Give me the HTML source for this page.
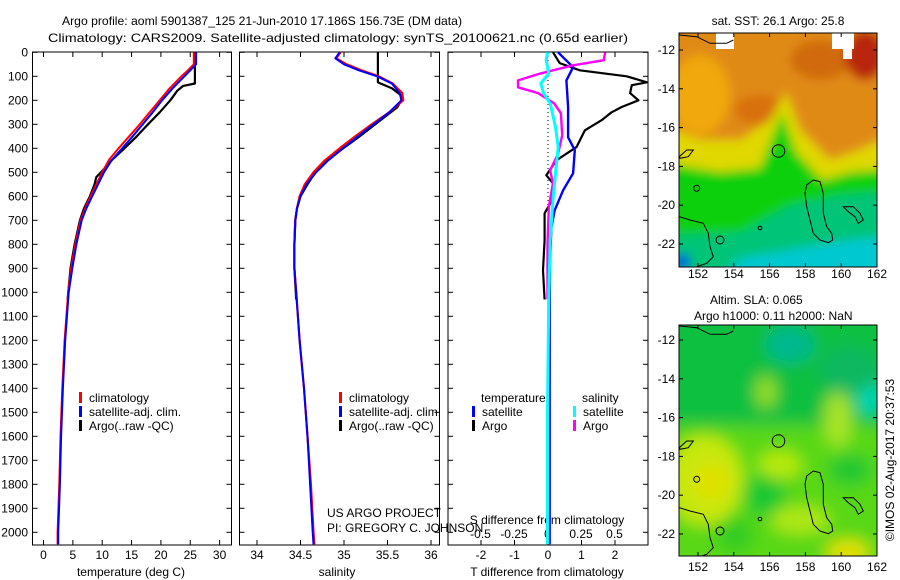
<!DOCTYPE html>
<html><head><meta charset="utf-8"><style>
html,body{margin:0;padding:0;background:#fff;}
svg{display:block;font-family:"Liberation Sans",Arial,sans-serif;font-size:12px;}
</style></head><body>
<svg id="fig" width="900" height="580" viewBox="0 0 900 580" xmlns="http://www.w3.org/2000/svg">
<defs>
<clipPath id="cp1"><rect x="32.5" y="52" width="199" height="493"/></clipPath>
<clipPath id="cp2"><rect x="239.5" y="52" width="200" height="493"/></clipPath>
<clipPath id="cp3"><rect x="448" y="52" width="200" height="493"/></clipPath>
<clipPath id="cpm1"><rect x="679" y="33" width="198" height="234"/></clipPath>
<clipPath id="cpm2"><rect x="679" y="325" width="198" height="231"/></clipPath>
<filter id="bl" x="-20%" y="-20%" width="140%" height="140%"><feGaussianBlur stdDeviation="5"/></filter>
<filter id="bl2" x="-20%" y="-20%" width="140%" height="140%"><feGaussianBlur stdDeviation="8"/></filter>
</defs>

<text x="62" y="25" textLength="400" lengthAdjust="spacingAndGlyphs">Argo profile: aoml 5901387_125 21-Jun-2010 17.186S 156.73E (DM data)</text>
<text x="48" y="42" textLength="580" lengthAdjust="spacingAndGlyphs">Climatology: CARS2009. Satellite-adjusted climatology: synTS_20100621.nc (0.65d earlier)</text>

<g>
<g clip-path="url(#cpm1)">
<g filter="url(#bl)">
<rect x="660" y="20" width="240" height="260" fill="#e08a12"/>
<ellipse cx="700" cy="95" rx="30" ry="40" fill="#f0a810"/>
<ellipse cx="760" cy="110" rx="25" ry="15" fill="#d87010"/>
<ellipse cx="820" cy="60" rx="30" ry="20" fill="#d06a10"/>
<ellipse cx="865" cy="55" rx="20" ry="25" fill="#b82808"/>
<polygon points="660,125 700,140 740,140 770,120 786,92 800,130 830,160 860,150 900,130 900,200 660,200" fill="#e0d800"/>
<polygon points="660,162 720,172 760,168 782,112 796,152 822,180 850,172 900,168 900,280 660,280" fill="#10d010"/>
<polygon points="790,205 840,195 900,190 900,280 660,280 660,235 740,232" fill="#00c478"/>
<polygon points="740,258 800,248 850,240 900,235 900,280 720,280" fill="#00c8d0"/>
<ellipse cx="682" cy="262" rx="8" ry="8" fill="#0050e0"/>
</g>
<rect x="716" y="33" width="18" height="16" fill="#fff"/>
<rect x="832" y="33" width="22" height="16" fill="#fff"/>
<rect x="843" y="45" width="9" height="14" fill="#fff"/>
<g fill="none" stroke="#000" stroke-width="1">
<polygon points="806.7,185 813.3,180 820,181.7 823.3,193.3 823.3,213.3 826.7,226.7 831.7,233.3 832.7,240 828.3,242.7 820,240 813.3,233.3 810,220 806.7,206.7 805,193.3"/>
<polygon points="843.3,206.7 853.3,206.7 860,213.3 863.3,220 858.3,223.3 855,216.7 848.3,211.7"/>
<polyline points="679.3,216.7 690,220 703.3,223.3 708.3,233.3 710,246.7 713.3,256.7 706.7,263.3 696.7,266.7"/>
<polygon points="679.3,156.7 686.7,150 693.3,150 688.3,156.7 680,158.3"/>
<circle cx="696.7" cy="188.3" r="3"/><circle cx="720" cy="240" r="4"/><circle cx="760" cy="228" r="1.8"/>
<polyline points="679.3,35 696.7,36.7 710,43.3 726.7,43.3 733.3,40"/>
</g>
<circle cx="778.5" cy="151" r="6.3" fill="none" stroke="#000" stroke-width="1"/>
</g>
<rect x="679" y="33" width="198" height="234" fill="none" stroke="#000" stroke-width="1"/>
<text x="778" y="25" text-anchor="middle">sat. SST: 26.1 Argo: 25.8</text>
</g>

<g>
<g clip-path="url(#cpm2)">
<g filter="url(#bl2)">
<rect x="660" y="310" width="240" height="260" fill="#58d818"/>
<rect x="660" y="310" width="240" height="115" fill="#10c040"/>
<ellipse cx="790" cy="345" rx="25" ry="18" fill="#00b890"/>
<ellipse cx="870" cy="395" rx="14" ry="20" fill="#00d8b8"/>
<ellipse cx="850" cy="370" rx="30" ry="25" fill="#10b860"/>
<ellipse cx="766" cy="392" rx="10" ry="16" fill="#98e020"/>
<ellipse cx="838" cy="420" rx="14" ry="28" fill="#a8e428"/>
<ellipse cx="705" cy="480" rx="38" ry="45" fill="#c8e810"/>
<ellipse cx="712" cy="482" rx="18" ry="18" fill="#e0e000"/>
<ellipse cx="765" cy="495" rx="20" ry="22" fill="#18c830"/>
<ellipse cx="735" cy="535" rx="18" ry="18" fill="#30cc20"/>
<ellipse cx="780" cy="465" rx="22" ry="14" fill="#b8ea10"/>
<ellipse cx="850" cy="470" rx="22" ry="16" fill="#20c830"/>
<ellipse cx="800" cy="520" rx="30" ry="14" fill="#b0e818"/>
<ellipse cx="848" cy="552" rx="22" ry="12" fill="#e8e000"/>
</g>
<g fill="none" stroke="#000" stroke-width="1" transform="translate(0,291)">
<polygon points="806.7,185 813.3,180 820,181.7 823.3,193.3 823.3,213.3 826.7,226.7 831.7,233.3 832.7,240 828.3,242.7 820,240 813.3,233.3 810,220 806.7,206.7 805,193.3"/>
<polygon points="843.3,206.7 853.3,206.7 860,213.3 863.3,220 858.3,223.3 855,216.7 848.3,211.7"/>
<polyline points="679.3,216.7 690,220 703.3,223.3 708.3,233.3 710,246.7 713.3,256.7 706.7,263.3 696.7,266.7"/>
<polygon points="679.3,156.7 686.7,150 693.3,150 688.3,156.7 680,158.3"/>
<circle cx="696.7" cy="188.3" r="3"/><circle cx="720" cy="240" r="4"/><circle cx="760" cy="228" r="1.8"/>
<polyline points="679.3,35 696.7,36.7 710,43.3 726.7,43.3 733.3,40"/>
</g>
<circle cx="778.5" cy="441" r="6.3" fill="none" stroke="#000" stroke-width="1"/>
</g>
<rect x="679" y="325" width="198" height="231" fill="none" stroke="#000" stroke-width="1"/>
<text x="710" y="304">Altim. SLA: 0.065</text>
<text x="694" y="320">Argo h1000: 0.11 h2000: NaN</text>
</g>

<text transform="translate(894,460) rotate(-90)" text-anchor="middle">©IMOS 02-Aug-2017 20:37:53</text>
<text x="327" y="517">US ARGO PROJECT</text>
<text x="327" y="532">PI: GREGORY C. JOHNSON</text>

<g id="dyn"></g>
</svg>
<script>
const depthTicks = [0,100,200,300,400,500,600,700,800,900,1000,1100,1200,1300,1400,1500,1600,1700,1800,1900,2000];
const tempTicks = [0,5,10,15,20,25,30];
const salTicks = [34,34.5,35,35.5,36];
const salTickLabels = ["34","34.5","35","35.5","36"];
const tdiffTicks = [-2,-1,0,1,2];
const sdiffTicks = [-0.5,-0.25,0,0.25,0.5];
const sdiffTickLabels = ["-0.5","-0.25","0","0.25","0.5"];
const lonTicks = [152,154,156,158,160,162];
const latTicks = [-12,-14,-16,-18,-20,-22];

const climDepth = [0,50,75,100,150,200,250,300,350,400,450,500,550,600,650,700,800,900,1000,1200,1400,1600,1800,2000,2050];
const tempClim = [25.6,25.6,24.6,23.5,21.5,19.8,18.1,16.4,14.6,12.8,11.1,10.0,9.0,8.0,7.1,6.3,5.4,4.7,4.2,3.6,3.2,2.9,2.7,2.4,2.4];
const tempSat = [26.0,26.0,25.0,24.0,22.0,20.2,18.6,16.9,15.2,13.4,11.6,10.3,9.3,8.3,7.3,6.5,5.6,4.9,4.3,3.7,3.3,3.0,2.8,2.5,2.5];
const argoTDepth = [0,130,140,160,200,250,300,350,400,450,500,520,550,600,650,700,800,900,1030];
const tempArgo = [25.8,25.8,23.8,22.8,21.6,19.8,17.8,15.9,13.8,11.6,9.8,9.0,8.7,7.9,6.9,6.2,5.3,4.6,4.1];

const salDepth = [0,25,50,75,100,130,170,200,250,300,350,400,450,500,550,600,650,700,800,900,1000,1200,1400,1600,1800,2000,2050];
const salClim = [34.96,34.91,35.03,35.2,35.4,35.56,35.67,35.68,35.52,35.32,35.13,34.95,34.78,34.65,34.55,34.49,34.46,34.44,34.43,34.43,34.45,34.49,34.54,34.58,34.62,34.65,34.66];
const salSat = [34.95,34.9,35.0,35.17,35.38,35.55,35.64,35.66,35.52,35.34,35.16,34.99,34.82,34.68,34.57,34.5,34.46,34.44,34.43,34.43,34.45,34.49,34.54,34.58,34.61,34.64,34.65];
const argoSDepth = [0,125,130,150,180,200,230,260,300,350,400,450,500,550,600,650,700,800,900,1030];
const salArgo = [35.39,35.39,35.42,35.55,35.66,35.66,35.61,35.5,35.36,35.18,34.99,34.8,34.67,34.58,34.5,34.46,34.44,34.43,34.43,34.45];

const tArgoDiffDepth = [0,45,75,100,125,137,170,200,228,250,283,325,395,450,512,546,617,671,783,908,1030];
const tArgoDiff = [0.15,0.35,0.95,2.35,2.95,2.5,2.45,2.7,2.2,1.9,1.6,1.1,0.85,0.25,-0.05,0.15,0.12,-0.1,-0.1,-0.15,-0.1];
const tSatDiffDepth = [0,62,117,228,354,408,504,575,658,729,900,1200,1600,2050];
const tSatDiff = [0.3,0.75,0.55,0.6,0.6,0.8,0.75,0.45,0.2,0.1,0.05,0.05,0.05,0.05];
const sArgoDiffDepth = [0,33,54,88,117,146,170,213,254,346,421,492,546,646,800,1030];
const sArgoDiff = [0.43,0.42,0.19,-0.05,-0.22,-0.22,-0.07,0.05,0.1,0.11,0.08,0.02,0.04,0.01,0.0,0.0];
const sSatDiffDepth = [0,33,88,129,170,213,312,395,504,617,783,1000,1500,2050];
const sSatDiff = [0.0,-0.01,0.01,-0.05,-0.03,0.02,0.06,0.08,0.06,0.04,0.02,0.01,0.0,0.0];

const yD = d => 52.3 + d*0.24;
const xT = v => 43.5 + v*5.87;
const xS = v => 257 + (v-34)*87;
const xTd = v => 548 + v*33.5;
const xSd = v => 547.5 + v*134;
const xLon = v => 698 + (v-152)*17.9;
const yLat1 = v => 50 + (-12 - v)*19.4;
const yLat2 = v => 340 + (-12 - v)*19.4;

const NS = "http://www.w3.org/2000/svg";
const root = document.getElementById('dyn');
function mk(tag, attrs, parent){
  const e = document.createElementNS(NS, tag);
  for (const k in attrs) e.setAttribute(k, attrs[k]);
  (parent||root).appendChild(e);
  return e;
}
function txt(s, x, y, anchor){
  const t = mk('text', {x:x, y:y, 'text-anchor':anchor||'start'});
  t.textContent = s;
  return t;
}

const panels = [
  {name:'temperature-panel', x0:32.5, x1:231.5},
  {name:'salinity-panel', x0:239.5, x1:439.5},
  {name:'difference-panel', x0:448, x1:648}
];
const pTop = 52, pBot = 545;
panels.forEach(p => {
  const r = mk('rect', {x:p.x0, y:pTop, width:p.x1-p.x0, height:pBot-pTop, fill:'none', stroke:'#000', 'stroke-width':1});
  
  
  depthTicks.forEach(d => {
    const y = yD(d);
    const t1 = mk('line', {x1:p.x0, x2:p.x0+5, y1:y, y2:y, stroke:'#000'});
    
    
    const t2 = mk('line', {x1:p.x1-5, x2:p.x1, y1:y, y2:y, stroke:'#000'});
    
    
  });
});
depthTicks.forEach(d => {
  const t = txt(String(d), 28, yD(d)+4, 'end');
  
  
});

function xticks(vals, labels, fx, ly){
  vals.forEach((v,i) => {
    const x = fx(v);
    const a = mk('line', {x1:x, x2:x, y1:pTop, y2:pTop+5, stroke:'#000'});
    
    
    const b = mk('line', {x1:x, x2:x, y1:pBot-5, y2:pBot, stroke:'#000'});
    
    
    const t = txt(labels[i], x, ly, 'middle');
    
    
  });
}
xticks(tempTicks, tempTicks.map(String), xT, 559);
xticks(salTicks, salTickLabels, xS, 559);
xticks(tdiffTicks, tdiffTicks.map(String), xTd, 559);
sdiffTicks.forEach((v,i) => {
  const t = txt(sdiffTickLabels[i], xSd(v), 538, 'middle');
  
  
});
let at;
at = txt('temperature (deg C)', 131, 576, 'middle');


at = txt('salinity', 337, 576, 'middle');


at = txt('T difference from climatology', 547, 576, 'middle');


at = txt('S difference from climatology', 547, 524, 'middle');



const zl = mk('line', {x1:xTd(0), x2:xTd(0), y1:pTop, y2:pBot, stroke:'#000', 'stroke-dasharray':'1,3'});



function series(depths, vals, fx, color, w, clip, name){
  const pts = depths.map((d,i) => fx(vals[i]).toFixed(1)+','+yD(d).toFixed(1)).join(' ');
  const pl = mk('polyline', {points:pts, fill:'none', stroke:color, 'stroke-width':w, 'clip-path':'url(#'+clip+')', 'stroke-linejoin':'round'});
  
  
}
series(argoTDepth, tempArgo, xT, '#000', 2.2, 'cp1', 'temp-argo-line');
series(climDepth, tempClim, xT, '#f00', 2, 'cp1', 'temp-climatology-line');
series(climDepth, tempSat, xT, '#00f', 2, 'cp1', 'temp-satellite-line');
series(argoSDepth, salArgo, xS, '#000', 2.2, 'cp2', 'sal-argo-line');
series(salDepth, salClim, xS, '#f00', 2.2, 'cp2', 'sal-climatology-line');
series(salDepth, salSat, xS, '#00f', 2, 'cp2', 'sal-satellite-line');
series(tArgoDiffDepth, tArgoDiff, xTd, '#000', 2.2, 'cp3', 't-argo-diff-line');
series(tSatDiffDepth, tSatDiff, xTd, '#00f', 2.4, 'cp3', 't-satellite-diff-line');
series(sArgoDiffDepth, sArgoDiff, xSd, '#f0f', 2.4, 'cp3', 's-argo-diff-line');
series(sSatDiffDepth, sSatDiff, xSd, '#0ff', 3, 'cp3', 's-satellite-diff-line');

function legItem(x, y, color, label, name){
  const b = mk('rect', {x:x, y:y-10, width:3, height:11, fill:color});
  
  
  const t = txt(label, x+10, y);
  
  
}
legItem(79, 402, '#f00', 'climatology', 'temp-legend-climatology');
legItem(79, 416, '#00f', 'satellite-adj. clim.', 'temp-legend-satellite');
legItem(79, 430, '#000', 'Argo(..raw -QC)', 'temp-legend-argo');
legItem(339, 402, '#f00', 'climatology', 'sal-legend-climatology');
legItem(339, 416, '#00f', 'satellite-adj. clim.', 'sal-legend-satellite');
legItem(339, 430, '#000', 'Argo(..raw -QC)', 'sal-legend-argo');
at = txt('temperature', 481, 402);


at = txt('salinity', 582, 402);


legItem(472, 416, '#00f', 'satellite', 'diff-legend-t-satellite');
legItem(472, 430, '#000', 'Argo', 'diff-legend-t-argo');
legItem(573, 416, '#0ff', 'satellite', 'diff-legend-s-satellite');
legItem(573, 430, '#f0f', 'Argo', 'diff-legend-s-argo');

[[33,267,yLat1,278],[325,556,yLat2,571]].forEach(m => {
  lonTicks.forEach(v => {
    const x = xLon(v);
    const a = mk('line', {x1:x, x2:x, y1:m[0], y2:m[0]+4, stroke:'#000'});
    
    
    const b = mk('line', {x1:x, x2:x, y1:m[1]-4, y2:m[1], stroke:'#000'});
    
    
    const t = txt(String(v), x, m[3], 'middle');
    
    
  });
  latTicks.forEach(v => {
    const y = m[2](v);
    const a = mk('line', {x1:679, x2:683, y1:y, y2:y, stroke:'#000'});
    
    
    const b = mk('line', {x1:873, x2:877, y1:y, y2:y, stroke:'#000'});
    
    
    const t = txt(String(v), 675, y+4, 'end');
    
    
  });
});
</script>
</body></html>
